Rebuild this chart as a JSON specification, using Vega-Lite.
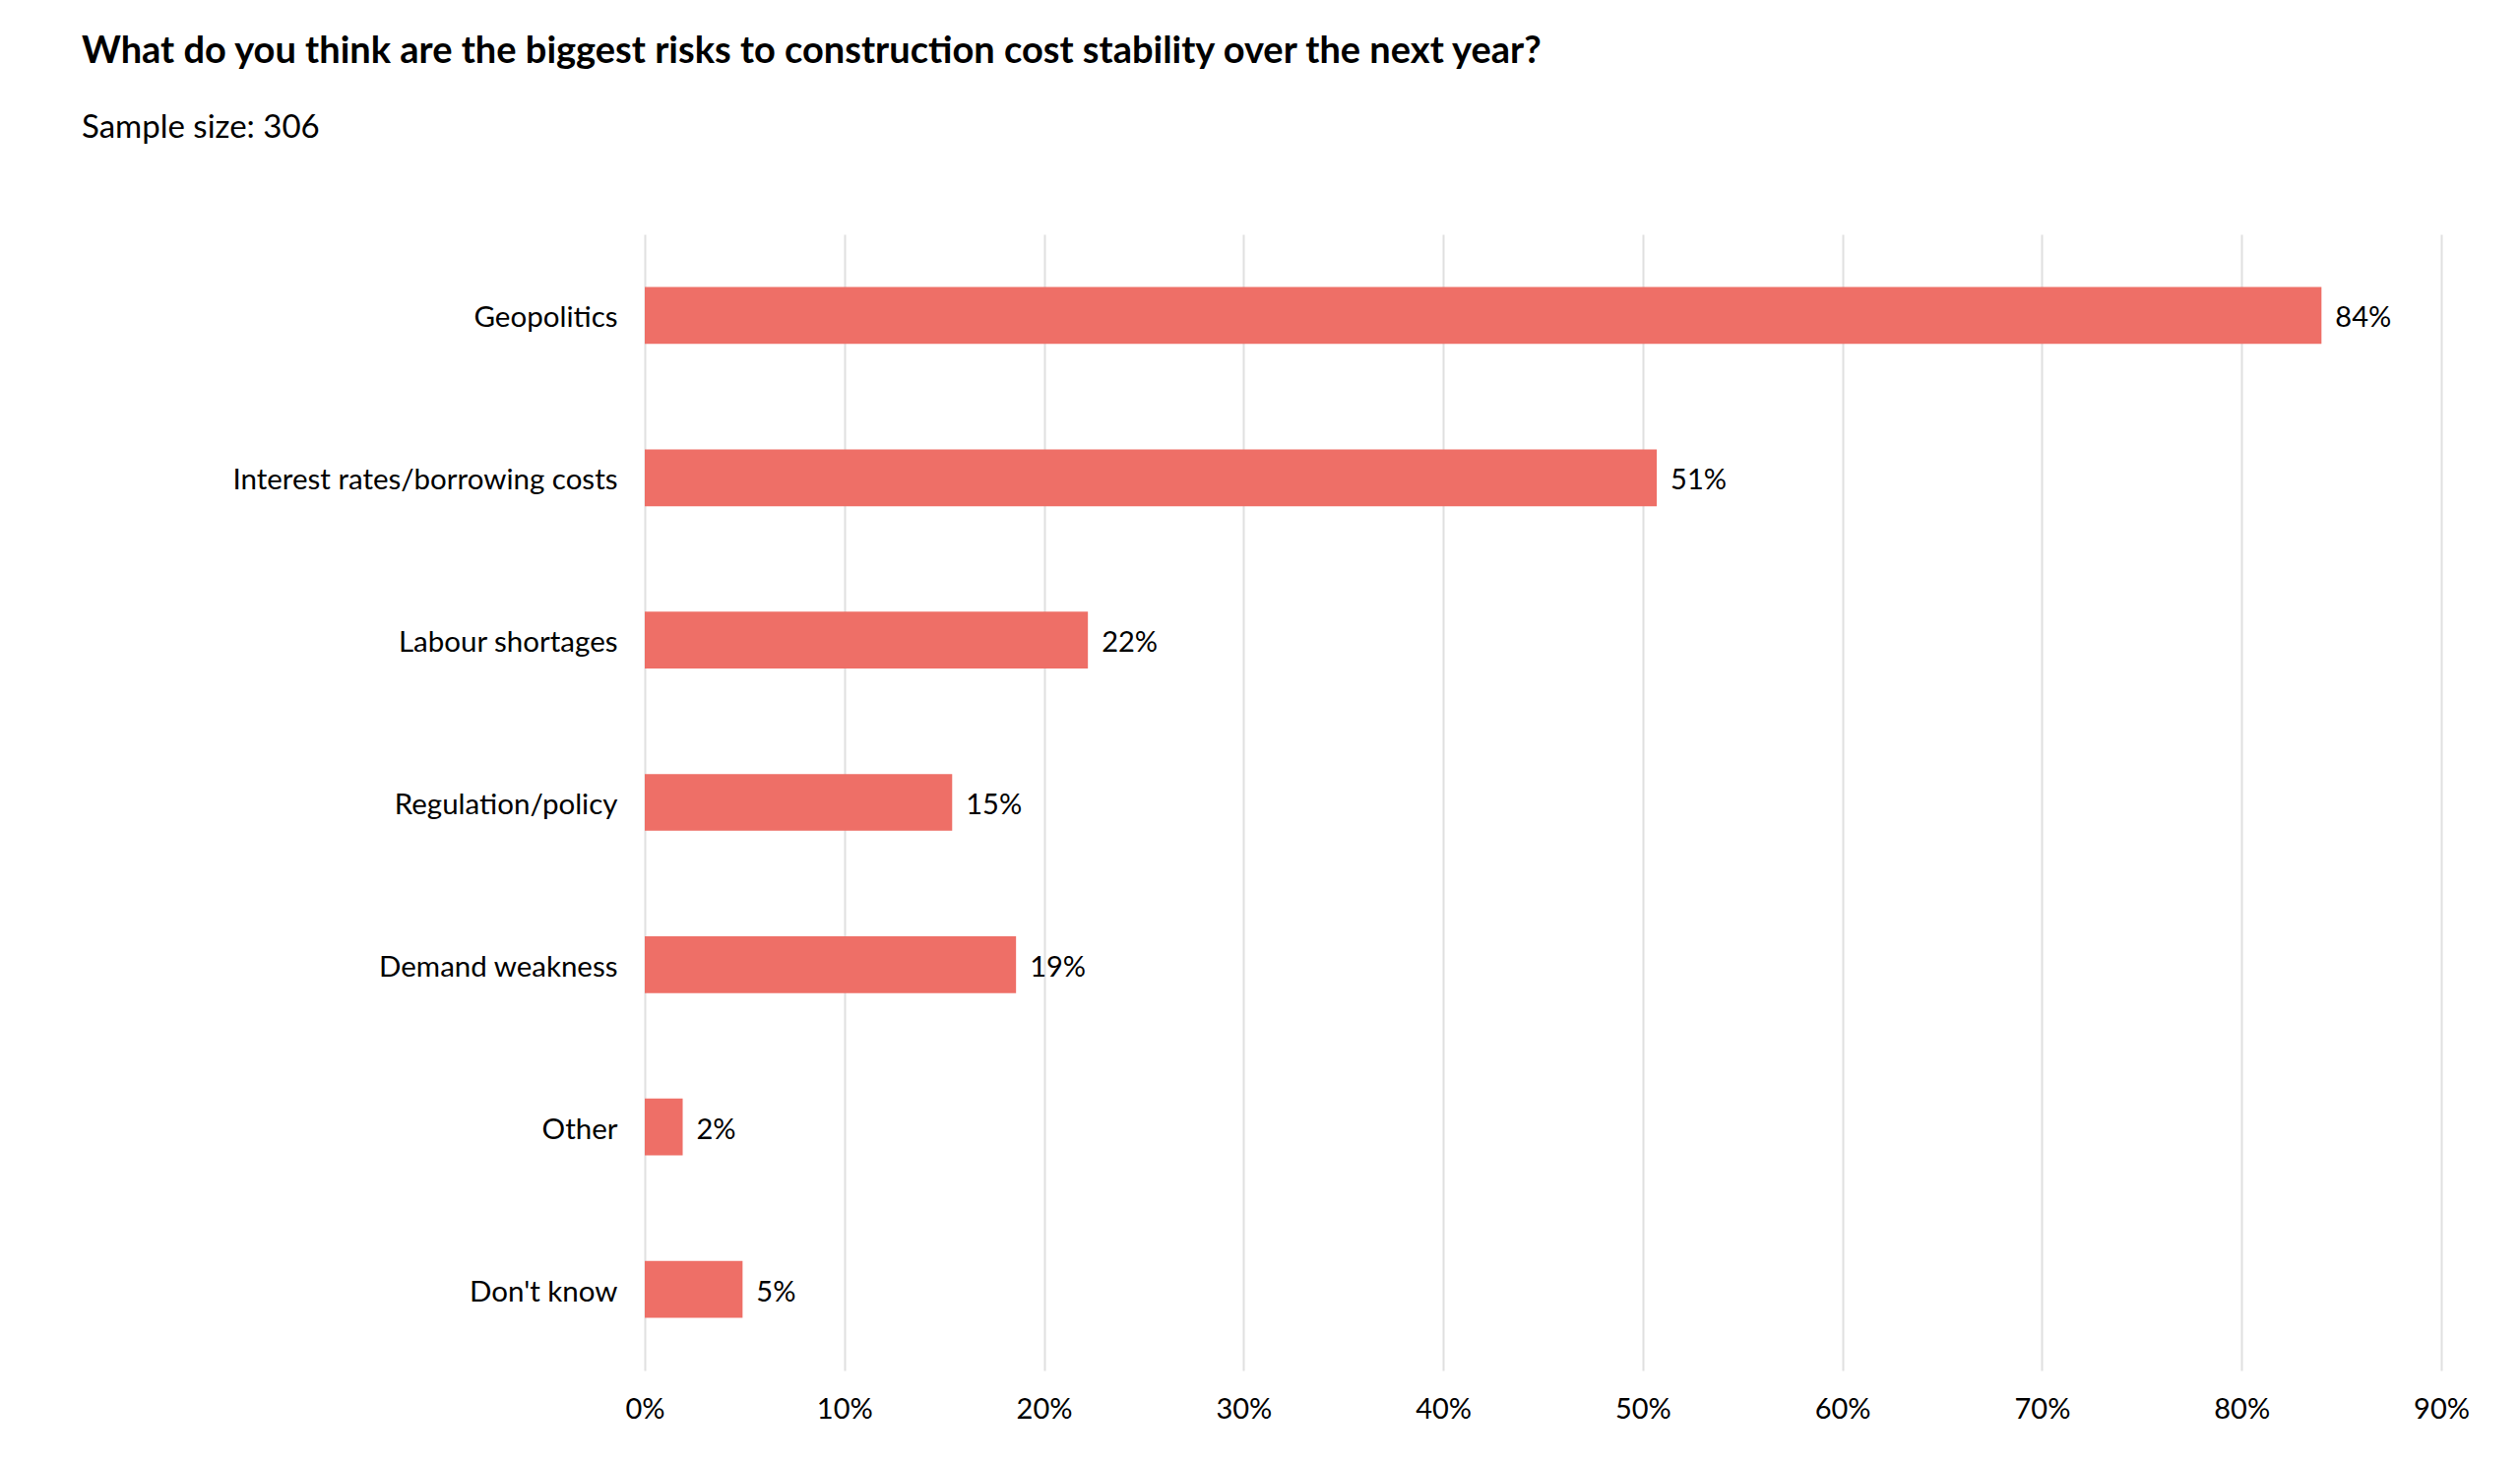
{
  "$schema": "https://vega.github.io/schema/vega-lite/v6.json",
  "autosize": "none",
  "width": 1825,
  "height": 1154,
  "padding": {"left": 655, "top": 238, "right": 80, "bottom": 95},
  "background": "white",
  "title": {
    "text": "What do you think are the biggest risks to construction cost stability over the next year?",
    "subtitle": "Sample size: 306",
    "anchor": "start",
    "frame": "group",
    "dx": -572,
    "offset": 91,
    "font": "Lato",
    "fontSize": 38,
    "fontWeight": "bold",
    "color": "#000000",
    "subtitleFont": "Lato",
    "subtitleFontSize": 33,
    "subtitleColor": "#000000",
    "subtitlePadding": 42
  },
  "data": {
    "values": [
      {"risk": "Geopolitics", "share": 0.840},
      {"risk": "Interest rates/borrowing costs", "share": 0.507},
      {"risk": "Labour shortages", "share": 0.222},
      {"risk": "Regulation/policy", "share": 0.154},
      {"risk": "Demand weakness", "share": 0.186},
      {"risk": "Other", "share": 0.019},
      {"risk": "Don't know", "share": 0.049}
    ]
  },
  "encoding": {
    "y": {
      "field": "risk",
      "type": "nominal",
      "sort": null,
      "scale": {"paddingInner": 0.65, "paddingOuter": 0.325},
      "axis": {
        "title": null,
        "domain": false,
        "ticks": false,
        "grid": false,
        "labelFont": "Lato",
        "labelFontSize": 29.5,
        "labelColor": "#000000",
        "labelPadding": 28,
        "labelLimit": 0,
        "labelOffset": 3
      }
    },
    "x": {
      "field": "share",
      "type": "quantitative",
      "scale": {"domain": [0, 0.9], "nice": false},
      "axis": {
        "title": null,
        "format": ".0%",
        "values": [0, 0.1, 0.2, 0.3, 0.4, 0.5, 0.6, 0.7, 0.8, 0.9],
        "domain": false,
        "ticks": false,
        "grid": true,
        "gridColor": "#e0e0e0",
        "gridWidth": 2,
        "labelFont": "Lato",
        "labelFontSize": 29,
        "labelColor": "#000000",
        "labelPadding": 25,
        "labelFlush": false
      }
    }
  },
  "layer": [
    {"mark": {"type": "bar", "color": "#ee6f67"}},
    {
      "mark": {"type": "text", "align": "left", "baseline": "middle", "dx": 14, "dy": 3, "font": "Lato", "fontSize": 29, "color": "#000000"},
      "encoding": {"text": {"field": "share", "type": "quantitative", "format": ".0%"}}
    }
  ],
  "config": {"view": {"stroke": null}}
}
